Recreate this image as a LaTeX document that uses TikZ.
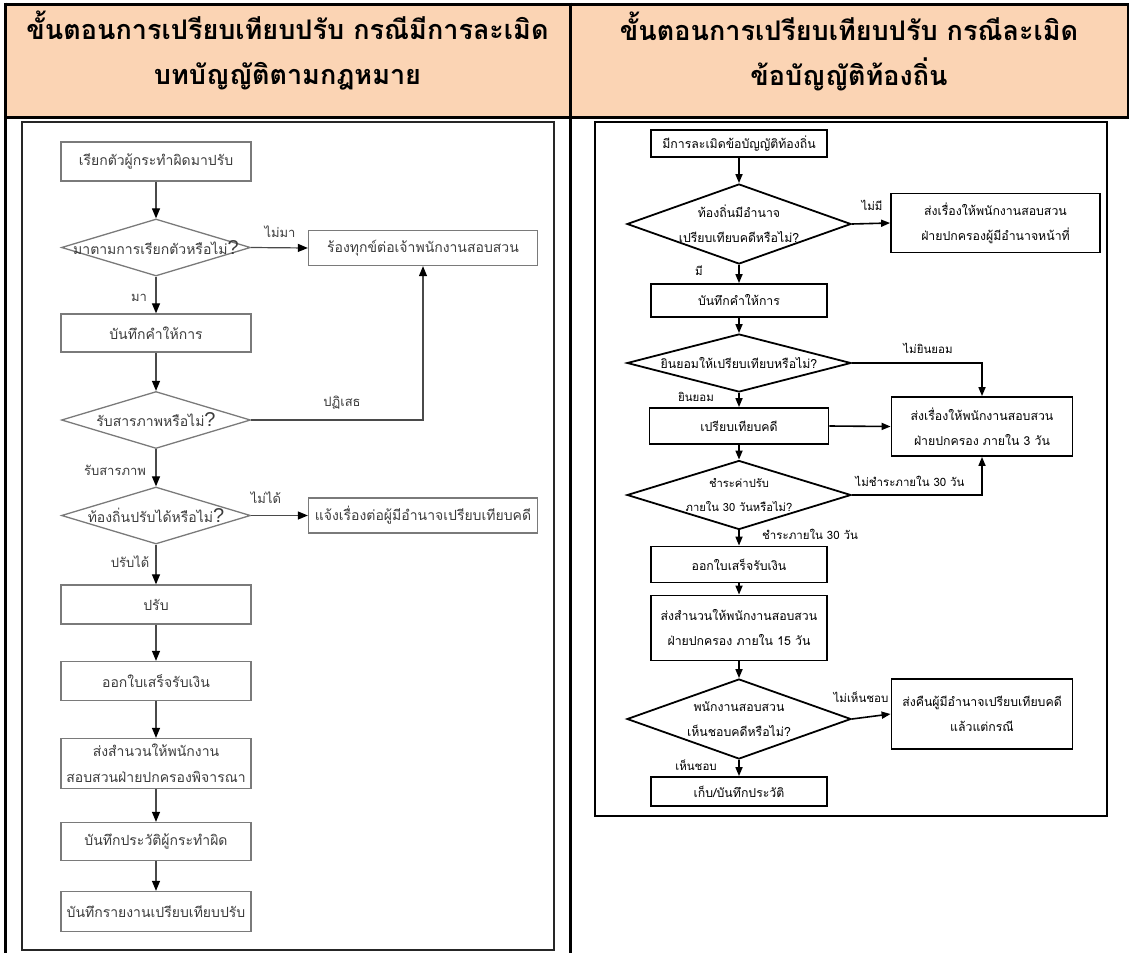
\documentclass[tikz,border=0pt]{standalone}
\usepackage{fontspec}
\newfontfamily\thai[Script=Thai]{Loma}
\newfontfamily\qfont{Liberation Sans}
\usetikzlibrary{shapes.geometric,arrows.meta}
\definecolor{hdr}{HTML}{FBD4B4}
\definecolor{lboxc}{HTML}{7A7A7A}
\definecolor{lline}{HTML}{4A4A4A}
\definecolor{ltext}{HTML}{3C3C3C}
\begin{document}
\begin{tikzpicture}[x=1pt,y=-1pt,
  hdrtext/.style={font=\thai\bfseries\fontsize{27}{45}\selectfont, align=center, text=black, inner sep=0pt},
  ltxt/.style={font=\thai\fontsize{14}{25.6}\selectfont, text=ltext, align=center, inner sep=0pt},
  lbox/.style={draw=lboxc, line width=1.3pt, minimum width=190pt, inner sep=0pt, ltxt},
  lwide/.style={lbox, minimum width=229pt, minimum height=35pt},
  ldia/.style={diamond, draw=lboxc, line width=1.3pt, minimum width=189pt, minimum height=57pt, inner sep=0pt},
  larrow/.style={draw=lline, line width=1.2pt, -{Triangle[length=10pt,width=8pt,color=black]}},
  llabel/.style={font=\thai\fontsize{13}{15}\selectfont, text=ltext, inner sep=0pt},
  rtxt/.style={font=\thai\fontsize{12.3}{25}\selectfont, text=black, align=center, inner sep=0pt},
  rtxts/.style={font=\thai\fontsize{11.2}{24}\selectfont, text=black, align=center, inner sep=0pt},
  rbox/.style={draw=black, line width=1.8pt, minimum width=176pt, inner sep=0pt, rtxt},
  rside/.style={rbox, minimum width=181pt},
  rdia/.style={diamond, draw=black, line width=1.8pt, minimum width=224pt, inner sep=0pt},
  rarrow/.style={draw=black, line width=1.6pt, -{Triangle[length=9pt,width=7pt]}},
  rlabel/.style={font=\thai\fontsize{11.5}{14}\selectfont, text=black, inner sep=0pt}]
\useasboundingbox (0,0) rectangle (1129,953);
% ---------- table ----------
\fill[hdr] (5,4) rectangle (1128,117);
\draw[line width=3pt] (5,4) -- (1128,4);
\draw[line width=3pt] (5,117) -- (1128,117);
\draw[line width=3pt] (5,2.5) -- (5,953);
\draw[line width=3pt] (570,2.5) -- (570,953);
\draw[line width=3pt] (1128,2.5) -- (1128,118.5);
\node[hdrtext] (hl) at (287.5,51) {ขั้นตอนการเปรียบเทียบปรับ กรณีมีการละเมิด\\บทบัญญัติตามกฎหมาย};
\node[hdrtext] (hr) at (849,51) {ขั้นตอนการเปรียบเทียบปรับ กรณีละเมิด\\ข้อบัญญัติท้องถิ่น};
% ---------- frames ----------
\draw[draw=black!85, line width=2.2pt] (22,122) rectangle (554,950);
\draw[draw=black, line width=2.2pt] (595,122) rectangle (1107,816);
% ---------- left flowchart ----------
\node[lbox, minimum height=39pt] (a1) at (156,161.5) {เรียกตัวผู้กระทำผิดมาปรับ};
\node[ldia, label={[ltxt]center:มาตามการเรียกตัวหรือไม่{\qfont\fontsize{20}{20}\selectfont ?}}] (ad1) at (156,247.5) {};
\node[lwide] (a2) at (423,248) {ร้องทุกข์ต่อเจ้าพนักงานสอบสวน};
\node[lbox, minimum height=38pt] (a3) at (156,333) {บันทึกคำให้การ};
\node[ldia, label={[ltxt]center:รับสารภาพหรือไม่{\qfont\fontsize{20}{20}\selectfont ?}}] (ad2) at (156,420) {};
\node[ldia, label={[ltxt]center:ท้องถิ่นปรับได้หรือไม่{\qfont\fontsize{20}{20}\selectfont ?}}] (ad3) at (156,515.5) {};
\node[lwide] (a4) at (423,515.5) {แจ้งเรื่องต่อผู้มีอำนาจเปรียบเทียบคดี};
\node[lbox, minimum height=39pt] (a5) at (156,604.5) {ปรับ};
\node[lbox, minimum height=39pt] (a6) at (156,681) {ออกใบเสร็จรับเงิน};
\node[lbox, minimum height=50pt] (a7) at (156,763.5) {ส่งสำนวนให้พนักงาน\\สอบสวนฝ่ายปกครองพิจารณา};
\node[lbox, minimum height=38pt] (a8) at (156,841.5) {บันทึกประวัติผู้กระทำผิด};
\node[lbox, minimum height=40pt] (a9) at (156,911.5) {บันทึกรายงานเปรียบเทียบปรับ};
\draw[larrow] (a1) -- (ad1);
\draw[larrow] (ad1.east) -- (a2.west);
\draw[larrow] (ad1.south) -- (a3.north);
\draw[larrow] (a3) -- (ad2);
\draw[larrow] (ad2.east) -| (a2.south);
\draw[larrow] (ad2.south) -- (ad3.north);
\draw[larrow] (ad3.east) -- (a4.west);
\draw[larrow] (ad3.south) -- (a5.north);
\draw[larrow] (a5) -- (a6);
\draw[larrow] (a6) -- (a7);
\draw[larrow] (a7) -- (a8);
\draw[larrow] (a8) -- (a9);
\node[llabel] (lb1) at (280,232) {ไม่มา};
\node[llabel] (lb2) at (139,298) {มา};
\node[llabel] (lb3) at (342,403) {ปฏิเสธ};
\node[llabel] (lb4) at (115,470) {รับสารภาพ};
\node[llabel] (lb5) at (266,498) {ไม่ได้};
\node[llabel] (lb6) at (130,562) {ปรับได้};
% ---------- right flowchart ----------
\node[rbox, minimum height=27pt] (b1) at (739,143.5) {มีการละเมิดข้อบัญญัติท้องถิ่น};
\node[rdia, minimum height=80pt, label={[rtxt]center:ท้องถิ่นมีอำนาจ\\เปรียบเทียบคดีหรือไม่?}] (bd1) at (739,224) {};
\node[rbox, minimum width=209pt, minimum height=59pt] (b2) at (995.5,223) {ส่งเรื่องให้พนักงานสอบสวน\\ฝ่ายปกครองผู้มีอำนาจหน้าที่};
\node[rbox, minimum height=33pt] (b3) at (739,300.5) {บันทึกคำให้การ};
\node[rdia, minimum height=58pt, label={[rtxt]center:ยินยอมให้เปรียบเทียบหรือไม่?}] (bd2) at (739,363) {};
\node[rside, minimum height=59pt] (b4) at (982,426.5) {ส่งเรื่องให้พนักงานสอบสวน\\ฝ่ายปกครอง ภายใน 3 วัน};
\node[rbox, minimum width=179pt, minimum height=36pt] (b5) at (739,426) {เปรียบเทียบคดี};
\node[rdia, minimum height=69pt, label={[rtxts]center:ชำระค่าปรับ\\ภายใน 30 วันหรือไม่?}] (bd3) at (739,495) {};
\node[rbox, minimum height=36pt] (b6) at (739,564.5) {ออกใบเสร็จรับเงิน};
\node[rbox, minimum height=65pt] (b7) at (739,628) {ส่งสำนวนให้พนักงานสอบสวน\\ฝ่ายปกครอง ภายใน 15 วัน};
\node[rdia, minimum height=80pt, label={[rtxt]center:พนักงานสอบสวน\\เห็นชอบคดีหรือไม่?}] (bd4) at (739,719) {};
\node[rside, minimum height=70pt] (b8) at (982,714) {ส่งคืนผู้มีอำนาจเปรียบเทียบคดี\\แล้วแต่กรณี};
\node[rbox, minimum height=29pt] (b9) at (739,791.5) {เก็บ/บันทึกประวัติ};
\draw[rarrow] (b1) -- (bd1);
\draw[rarrow] (bd1.east) -- (b2.west);
\draw[rarrow] (bd1.south) -- (b3.north);
\draw[rarrow] (b3) -- (bd2);
\draw[rarrow] (bd2.east) -| (b4.north);
\draw[rarrow] (bd2.south) -- (b5.north);
\draw[rarrow] (b5.east) -- (b4.west);
\draw[rarrow] (b5.south) -- (bd3.north);
\draw[rarrow] (bd3.east) -| (b4.south);
\draw[rarrow] (bd3.south) -- (b6.north);
\draw[rarrow] (b6) -- (b7);
\draw[rarrow] (b7) -- (bd4);
\draw[rarrow] (bd4.east) -- (b8.west);
\draw[rarrow] (bd4.south) -- (b9.north);
\node[rlabel] (rl1) at (872,205) {ไม่มี};
\node[rlabel] (rl2) at (699,271) {มี};
\node[rlabel] (rl3) at (928,348) {ไม่ยินยอม};
\node[rlabel] (rl4) at (696,397) {ยินยอม};
\node[rlabel] (rl5) at (910,481) {ไม่ชำระภายใน 30 วัน};
\node[rlabel] (rl6) at (810,534) {ชำระภายใน 30 วัน};
\node[rlabel] (rl7) at (861,697) {ไม่เห็นชอบ};
\node[rlabel] (rl8) at (696,765) {เห็นชอบ};
\end{tikzpicture}
\end{document}
